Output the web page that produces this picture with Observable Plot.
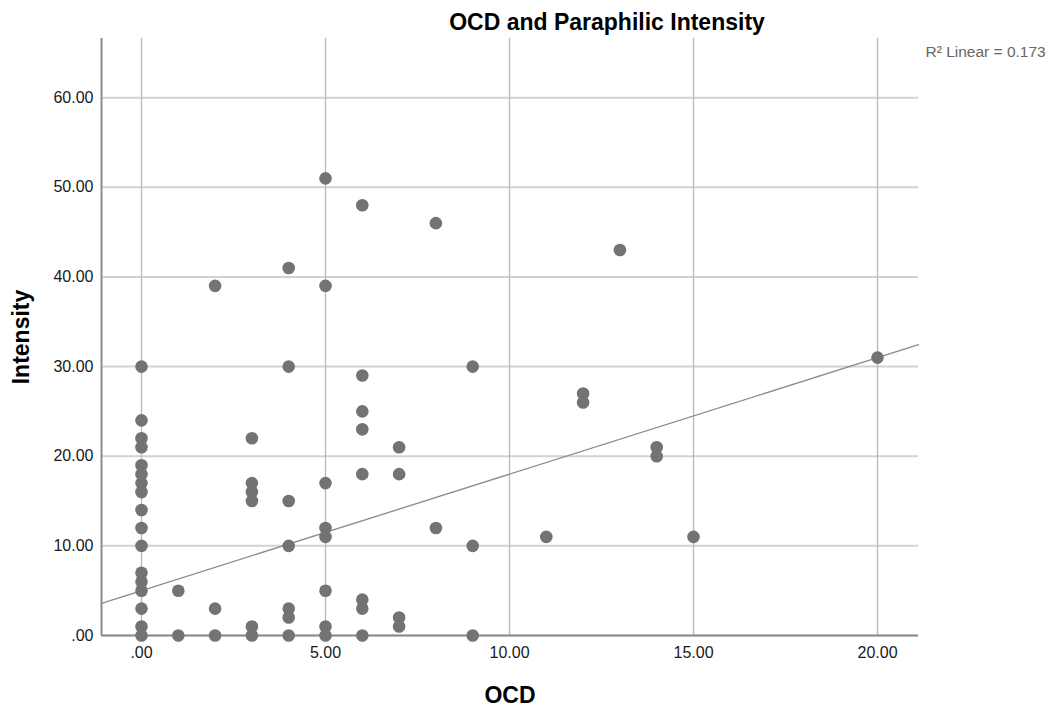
<!DOCTYPE html>
<html>
<head>
<meta charset="utf-8">
<script src="https://cdn.jsdelivr.net/npm/d3@7"></script>
<script src="https://cdn.jsdelivr.net/npm/@observablehq/plot@0.6"></script>
<style>
  html, body { margin: 0; padding: 0; background: #fff; }
  #chart svg { display: block; }
</style>
</head>
<body>
<div id="chart"></div>
<script>
// ---- data ----
const ocd = [
  0,0,0,0,0,0,0,0,0,0,0,0,0,0,0,0,0,
  1,1,
  2,2,2,
  3,3,3,3,3,3,
  4,4,4,4,4,4,4,
  5,5,5,5,5,5,5,5,
  6,6,6,6,6,6,6,6,
  7,7,7,7,
  8,8,
  9,9,9,
  11,
  12,12,
  13,
  14,14,
  15,
  20
];
const intensity = [
  30,24,22,21,19,18,17,16,14,12,10,7,6,5,3,1,0,
  5,0,
  39,3,0,
  22,17,16,15,1,0,
  41,30,15,10,3,2,0,
  51,39,17,12,11,5,1,0,
  48,29,25,23,18,4,3,0,
  21,18,2,1,
  46,12,
  30,10,0,
  11,
  27,26,
  43,
  21,20,
  11,
  31
];
const xTicks = [0, 5, 10, 15, 20];
const yTicks = [0, 10, 20, 30, 40, 50, 60];
const xDomain = [-1.087, 21.114];
const yDomain = [0, 66.6];
const fitIntercept = 5.0;
const fitSlope = 1.3;
const rSquared = 0.173;
const titleText = "OCD and Paraphilic Intensity";
const xLabel = "OCD";
const yLabel = "Intensity";

const points = ocd.map((x, i) => ({x, y: intensity[i]}));
const fitLine = xDomain.map(x => ({x, y: fitIntercept + fitSlope * x}));
const fmt = d => d === 0 ? ".00" : d.toFixed(2);

const chart = Plot.plot({
  width: 1055,
  height: 713,
  marginLeft: 101,
  marginRight: 137,
  marginTop: 38,
  marginBottom: 78,
  style: {fontFamily: "'Liberation Sans', Arial, sans-serif", fontSize: "16px", color: "#1a1a1a", background: "#fff", overflow: "visible"},
  x: {domain: xDomain, ticks: xTicks, tickFormat: fmt, tickSize: 0, tickPadding: 11, label: null},
  y: {domain: yDomain, ticks: yTicks, tickFormat: fmt, tickSize: 0, tickPadding: 8, label: null},
  marks: [
    Plot.ruleY(yTicks, {stroke: "#d2d2d2", strokeWidth: 2}),
    Plot.ruleX(xTicks, {stroke: "#b9b9b9", strokeWidth: 1.3}),
    Plot.ruleX([xDomain[0]], {stroke: "#8c8c8c", strokeWidth: 2}),
    Plot.ruleY([yDomain[0]], {stroke: "#8c8c8c", strokeWidth: 2}),
    Plot.line(fitLine, {x: "x", y: "y", stroke: "#8a8a8a", strokeWidth: 1.3}),
    Plot.dot(points, {x: "x", y: "y", r: 6.3, fill: "#737373", stroke: "none"}),
    Plot.text([titleText], {text: d => d, frameAnchor: "top", dx: 97, dy: -16, fontSize: 23, fontWeight: "bold", fill: "#000", textAnchor: "middle", lineAnchor: "middle"}),
    Plot.text([xLabel], {text: d => d, frameAnchor: "bottom", dy: 60, fontSize: 23, fontWeight: "bold", fill: "#000", textAnchor: "middle", lineAnchor: "middle"}),
    Plot.text([yLabel], {text: d => d, frameAnchor: "left", dx: -80, rotate: -90, fontSize: 23, fontWeight: "bold", fill: "#000", textAnchor: "middle", lineAnchor: "middle"}),
    Plot.text([`R\u00B2 Linear = ${rSquared}`], {text: d => d, frameAnchor: "top-right", dx: 7, dy: 14, textAnchor: "start", lineAnchor: "middle", fontSize: 15.5, fill: "#666"})
  ]
});
document.getElementById("chart").appendChild(chart);
</script>
</body>
</html>
